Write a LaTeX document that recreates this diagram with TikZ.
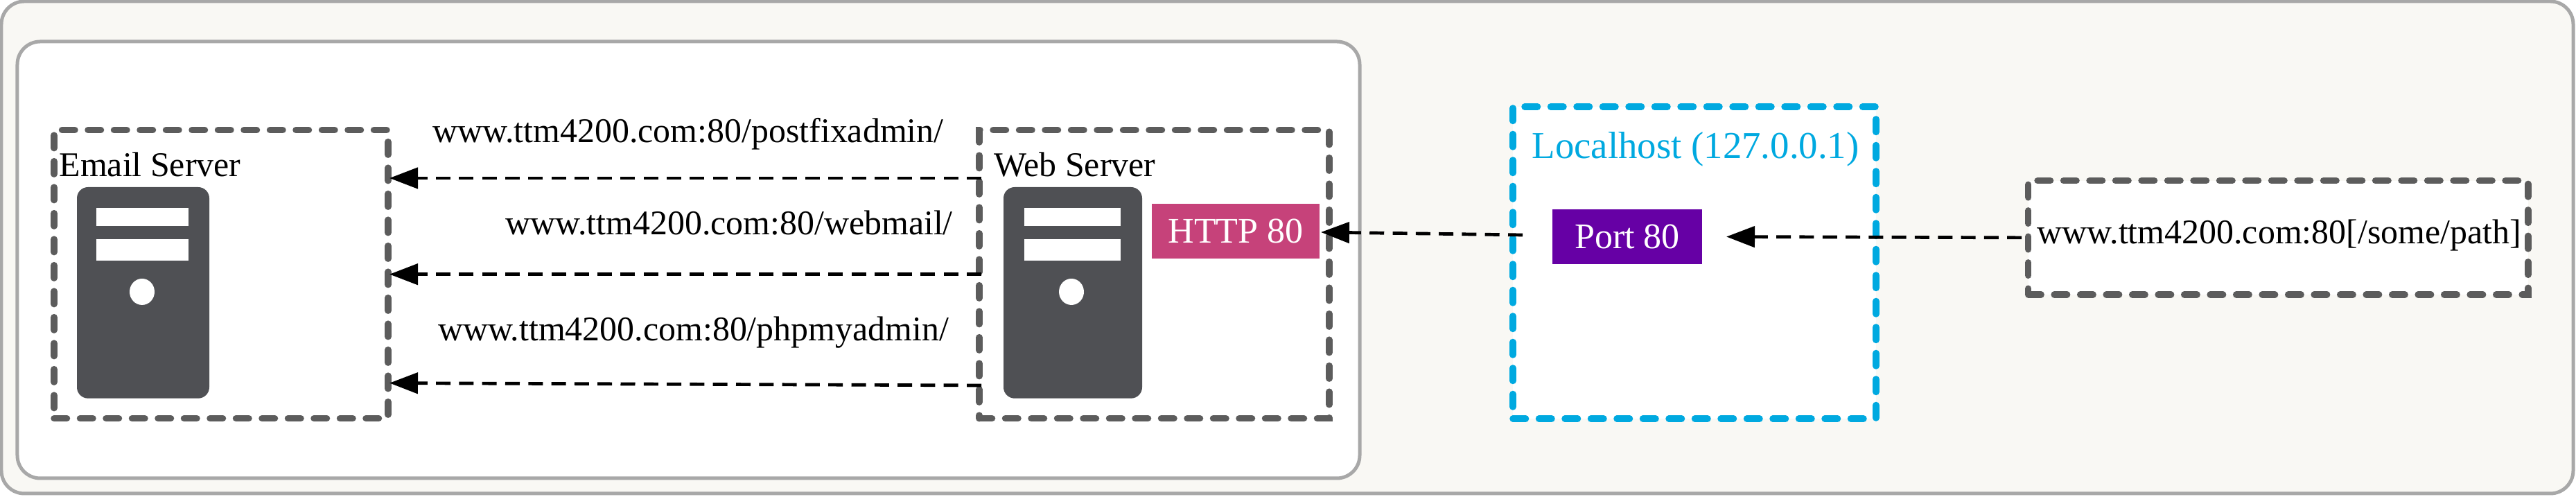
\documentclass[tikz,border=0pt]{standalone}
\usepackage{fontspec}
\setmainfont{Liberation Serif}
\usetikzlibrary{arrows.meta}
\definecolor{framegrey}{HTML}{A8A8A8}
\definecolor{framefill}{HTML}{F9F8F4}
\definecolor{boxgrey}{HTML}{5C5C5C}
\definecolor{servergrey}{HTML}{4F5054}
\definecolor{hostblue}{HTML}{00A9E0}
\definecolor{httppink}{HTML}{C6427A}
\definecolor{portpurple}{HTML}{6600A5}
\tikzset{
    framebox/.style={draw=framegrey, line width=0.05cm, rounded corners=0.33cm, inner sep=0, outer sep=0},
    dashbox/.style={draw=boxgrey, fill=white, line width=0.095cm, line cap=round, dash pattern=on 0.185cm off 0.19cm, inner sep=0, outer sep=0},
    portbox/.style={text=white, inner sep=0, outer sep=0, minimum height=0.79cm, font=\fontsize{14.8}{17}\selectfont},
    txt/.style={anchor=base, inner sep=0, font=\fontsize{14.2}{17}\selectfont},
    conn/.style={line width=0.047cm, dash pattern=on 0.21cm off 0.123cm, -{Triangle[length=0.41cm,width=0.3cm]}},
}
\begin{document}
\begin{tikzpicture}
    \useasboundingbox (0,0) rectangle (37.17,7.17);
    % frames
    \node[framebox, fill=framefill, minimum width=37.11cm, minimum height=7.10cm] (outerframe) at (18.575,3.60) {};
    \node[framebox, fill=white, minimum width=19.37cm, minimum height=6.30cm] (innerframe) at (9.935,3.42) {};
    % boxes
    \node[dashbox, minimum width=4.82cm, minimum height=4.16cm] (emailbox) at (3.19,3.213) {};
    \node[dashbox, minimum width=5.05cm, minimum height=4.16cm] (webbox) at (16.655,3.213) {};
    \node[dashbox, draw=hostblue, minimum width=5.24cm, minimum height=4.5cm] (hostbox) at (24.45,3.38) {};
    \node[dashbox, minimum width=7.213cm, minimum height=1.643cm] (urlbox) at (32.873,3.741) {};
    % server icons
    \foreach \l/\r/\sl/\sr/\c in {1.11/3.02/1.39/2.72/2.05, 14.48/16.48/14.78/16.17/15.46} {
        \fill[servergrey, rounded corners=0.16cm] (\l,4.47) rectangle (\r,1.423);
        \fill[white] (\sl,4.17) rectangle (\sr,3.91);
        \fill[white] (\sl,3.72) rectangle (\sr,3.41);
        \fill[white] (\c,2.96) ellipse (0.18cm and 0.19cm);
    }
    % ports
    \node[portbox, fill=httppink, minimum width=2.42cm] (http) at (17.83,3.835) {HTTP 80};
    \node[portbox, fill=portpurple, minimum width=2.16cm] (port) at (23.48,3.755) {Port 80};
    % labels
    \node[txt] (emaillabel) at (2.165,4.62) {Email Server};
    \node[txt] (weblabel) at (15.51,4.62) {Web Server};
    \node[txt, text=hostblue, font=\fontsize{15.6}{18}\selectfont] (hostlabel) at (24.465,4.88) {Localhost (127.0.0.1)};
    \node[txt] (urllabel) at (32.887,3.653) {www.ttm4200.com:80[/some/path]};
    \node[txt] (adminlabel) at (9.93,5.11) {www.ttm4200.com:80/postfixadmin/};
    \node[txt] (maillabel) at (10.52,3.78) {www.ttm4200.com:80/webmail/};
    \node[txt] (sqllabel) at (10.005,2.255) {www.ttm4200.com:80/phpmyadmin/};
    % connectors
    \draw[conn] ([xshift=0.03cm,yshift=1.387cm]webbox.west) -- ([xshift=0.02cm,yshift=1.387cm]emailbox.east);
    \draw[conn] ([xshift=0.03cm]webbox.west) -- ([xshift=0.02cm]emailbox.east);
    \draw[conn] ([xshift=0.03cm,yshift=-1.603cm]webbox.west) -- ([xshift=0.02cm,yshift=-1.569cm]emailbox.east);
    \draw[conn] ([xshift=-0.43cm,yshift=0.025cm]port.west) -- ([xshift=0.02cm,yshift=-0.015cm]http.east);
    \draw[conn] ([xshift=-0.095cm]urlbox.west) -- ([xshift=0.35cm]port.east);
\end{tikzpicture}
\end{document}
